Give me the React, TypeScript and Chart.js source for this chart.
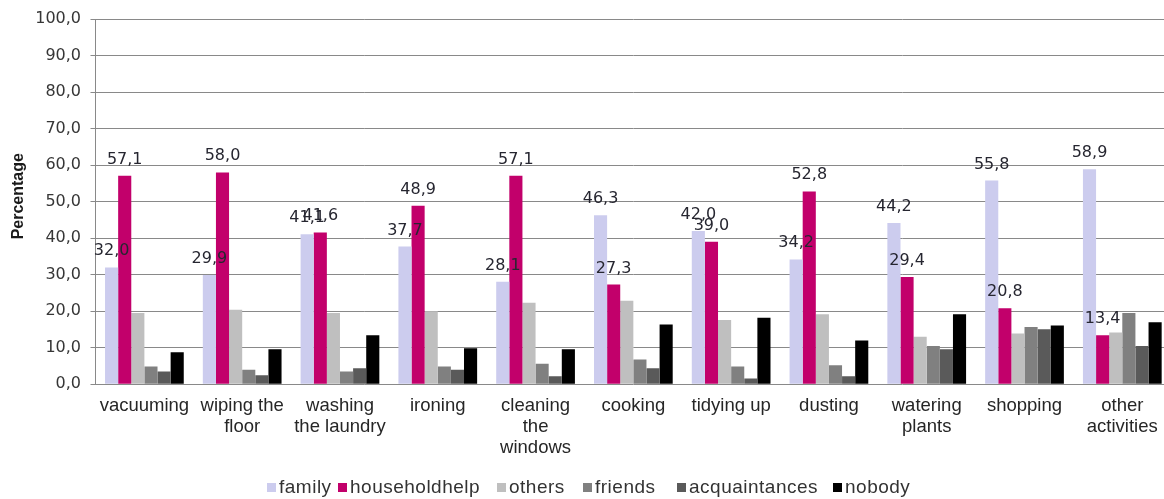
import { useEffect, useRef } from "react";
import { Chart, registerables } from "chart.js";

Chart.register(...registerables);

// Activities (multi-line tick labels)
const categories: string[][] = [
  ["vacuuming"],
  ["wiping the", "floor"],
  ["washing", "the laundry"],
  ["ironing"],
  ["cleaning", "the", "windows"],
  ["cooking"],
  ["tidying up"],
  ["dusting"],
  ["watering", "plants"],
  ["shopping"],
  ["other", "activities"],
];

// Share of respondents (%) by who does the activity
const family = [32.0, 29.9, 41.1, 37.7, 28.1, 46.3, 42.0, 34.2, 44.2, 55.8, 58.9];
const householdHelp = [57.1, 58.0, 41.6, 48.9, 57.1, 27.3, 39.0, 52.8, 29.4, 20.8, 13.4];
const others = [19.5, 20.4, 19.5, 20.0, 22.3, 22.9, 17.6, 19.2, 13.0, 13.9, 14.2];
const friends = [4.9, 4.0, 3.5, 4.9, 5.6, 6.8, 4.9, 5.2, 10.5, 15.7, 19.5];
const acquaintances = [3.5, 2.5, 4.4, 4.0, 2.2, 4.4, 1.6, 2.2, 9.6, 15.1, 10.5];
const nobody = [8.8, 9.6, 13.4, 9.9, 9.6, 16.4, 18.2, 12.0, 19.2, 16.1, 17.0];

const seriesNames = ["family", "householdhelp", "others", "friends", "acquaintances", "nobody"];
const seriesColors = ["#ccccee", "#c2006b", "#bfbfbf", "#808080", "#5a5a5a", "#000000"];
const seriesValues = [family, householdHelp, others, friends, acquaintances, nobody];

// Series whose bars carry a value label
const labelledSeries = [0, 1];

const axisTitle = "Percentage";

// Left offsets of the legend entries
const legendLefts = [267, 338, 497, 583, 677, 833];

const fmt = (v: number) => v.toFixed(1).replace(".", ",");

const valueLabels = {
  id: "valueLabels",
  afterDatasetsDraw(chart: any) {
    const ctx = chart.ctx;
    ctx.save();
    ctx.font = "16px 'DejaVu Sans'";
    ctx.fillStyle = "#262630";
    ctx.textAlign = "center";
    ctx.textBaseline = "alphabetic";
    labelledSeries.forEach((i) => {
      const meta = chart.getDatasetMeta(i);
      meta.data.forEach((bar: any, j: number) => {
        const v = chart.data.datasets[i].data[j] as number;
        ctx.fillText(fmt(v), bar.x, bar.y - 12);
      });
    });
    ctx.restore();
  },
};

// Rotated y-axis title, placed slightly above the middle of the plot
const yTitle = {
  id: "yTitle",
  afterDraw(chart: any) {
    const ctx = chart.ctx;
    const { top, bottom } = chart.chartArea;
    ctx.save();
    ctx.translate(18.5, (top + bottom) / 2 - 5.5);
    ctx.rotate(-Math.PI / 2);
    ctx.font = "bold 16px 'Liberation Sans', Arial, sans-serif";
    ctx.fillStyle = "#1a1a1a";
    ctx.textAlign = "center";
    ctx.textBaseline = "middle";
    ctx.fillText(axisTitle, 0, 0);
    ctx.restore();
  },
};

export default function App() {
  const ref = useRef<HTMLCanvasElement | null>(null);

  useEffect(() => {
    if (!ref.current) return;
    const chart = new Chart(ref.current, {
      type: "bar",
      data: {
        labels: categories,
        datasets: seriesNames.map((name, i) => ({
          label: name,
          data: seriesValues[i],
          backgroundColor: seriesColors[i],
          borderWidth: 0,
          categoryPercentage: 0.805,
          barPercentage: 1,
        })),
      },
      options: {
        responsive: false,
        animation: false,
        devicePixelRatio: 1,
        layout: { padding: { left: 0, top: 19, right: 28.8, bottom: 0 } },
        plugins: {
          legend: { display: false },
          tooltip: { enabled: false },
        },
        scales: {
          x: {
            grid: { display: false, drawTicks: false },
            border: { display: false },
            ticks: {
              autoSkip: false,
              maxRotation: 0,
              padding: 11,
              color: "#262626",
              font: { family: "'Liberation Sans', Arial, sans-serif", size: 18.5, lineHeight: 1.14 },
            },
            afterFit: (s: any) => {
              s.height = 114.7;
            },
          },
          y: {
            min: 0,
            max: 100,
            ticks: {
              stepSize: 10,
              padding: 9.5,
              color: "#363636",
              font: { family: "'DejaVu Sans', sans-serif", size: 16 },
              callback: (v: any) => fmt(Number(v)),
            },
            grid: { color: "#898989", lineWidth: 1, tickLength: 5 },
            border: { display: true, color: "#898989" },
            afterFit: (s: any) => {
              s.width = 95.5;
            },
          },
        },
      },
      plugins: [valueLabels, yTitle],
    });
    return () => chart.destroy();
  }, []);

  return (
    <div
      style={{
        position: "fixed",
        left: 0,
        top: 0,
        width: 1164,
        height: 499,
        overflow: "hidden",
        background: "#ffffff",
      }}
    >
      <canvas ref={ref} width={1200} height={499} style={{ position: "absolute", left: 0, top: 0 }} />
      {seriesNames.map((name, i) => (
        <div
          key={name}
          style={{
            position: "absolute",
            left: legendLefts[i],
            top: 476,
            display: "flex",
            alignItems: "center",
            fontFamily: "'Liberation Sans', Arial, sans-serif",
            fontSize: 19,
            letterSpacing: 0.5,
            color: "#333333",
            whiteSpace: "nowrap",
            lineHeight: "22px",
          }}
        >
          <span
            style={{
              display: "inline-block",
              width: 9,
              height: 9,
              background: seriesColors[i],
              marginRight: 3,
            }}
          />
          <span>{name}</span>
        </div>
      ))}
    </div>
  );
}
